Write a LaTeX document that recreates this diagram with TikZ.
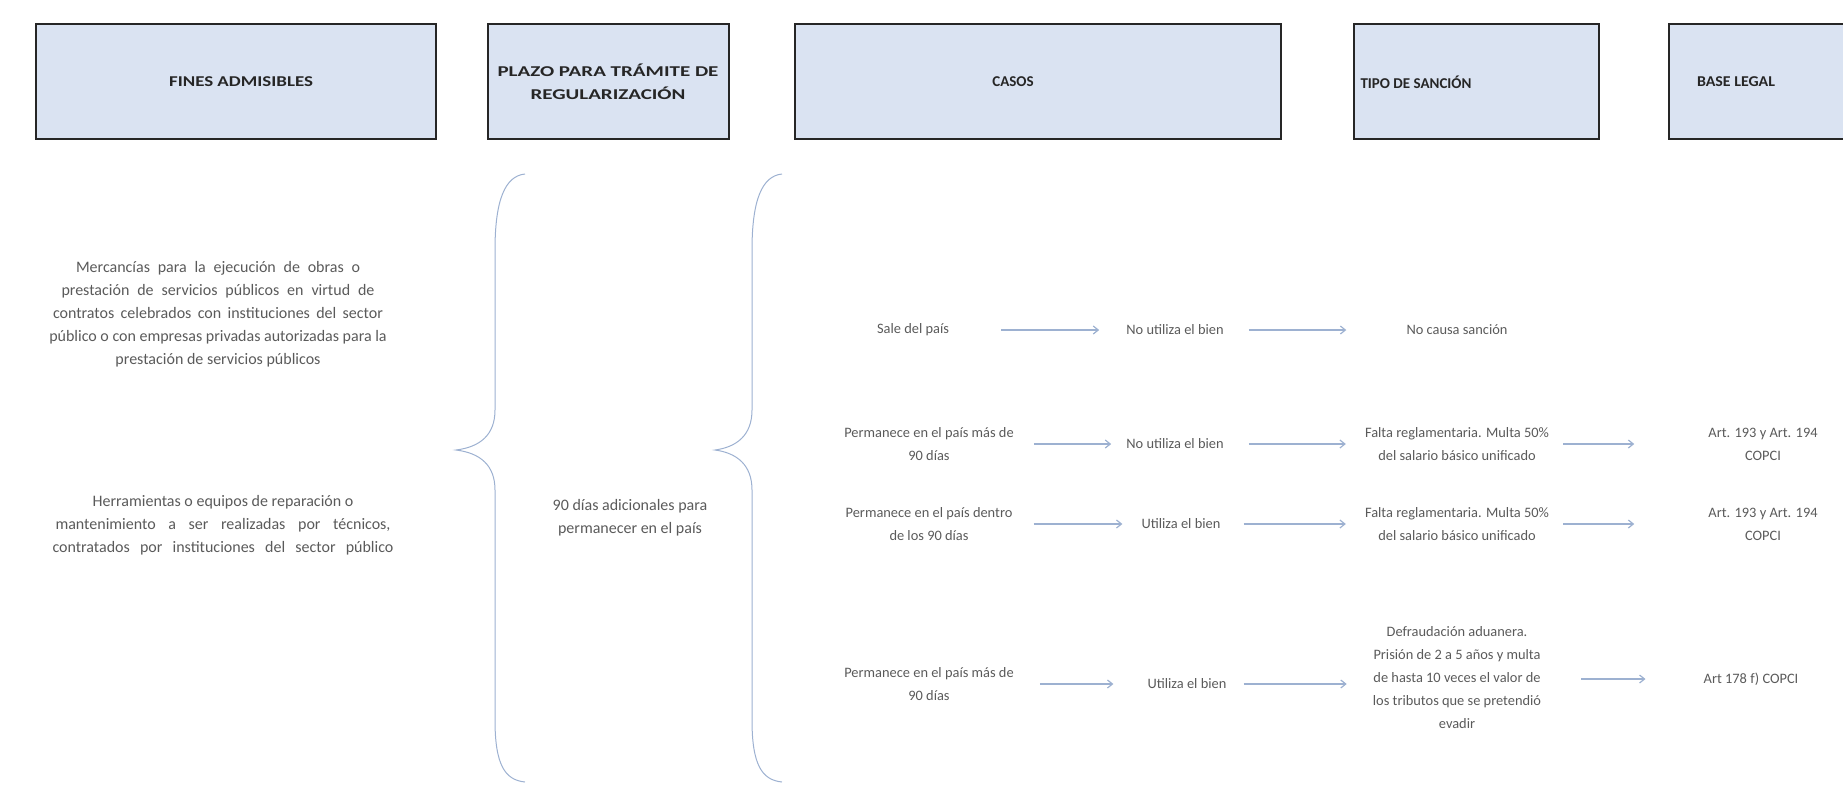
\documentclass[tikz,border=0pt]{standalone}
\usepackage{fontspec}
\usepackage{graphicx}
\setmainfont{Carlito}
\usetikzlibrary{arrows.meta}
\definecolor{headfill}{HTML}{DAE3F2}
\definecolor{linkblue}{HTML}{9DB1D1}
\definecolor{textgray}{HTML}{5A5A5A}
\tikzset{
%Define standard arrow tip
>={Straight Barb[length=5pt,width=8pt]},
%header boxes and their titles
headbox/.style={draw=black!85, line width=2.2pt, fill=headfill, minimum height=115pt},
headtxt/.style={align=center, text=black!85, font=\bfseries\fontsize{15}{23.5}\selectfont, inner sep=0pt},
%plain text
txt/.style={align=center, text=textgray, font=\fontsize{14.4}{23}\selectfont, inner sep=0pt},
bigtxt/.style={txt, font=\fontsize{16}{23}\selectfont},
%connections
link/.style={->, linkblue, line width=1.2pt},
brace/.style={linkblue, line width=1pt},
}

\begin{document}
\begin{tikzpicture}[x=1pt,y=-1pt]

\useasboundingbox (0,0) rectangle (1843,795);
\clip (0,0) rectangle (1843,795);

% header
\node[headbox, minimum width=400pt] (box1) at (236,81.5) {};
\node[headbox, minimum width=241pt] (box2) at (608.5,81.5) {};
\node[headbox, minimum width=486pt] (box3) at (1038,81.5) {};
\node[headbox, minimum width=245pt] (box4) at (1476.5,81.5) {};
\node[headbox, minimum width=220pt] (box5) at (1779,81.5) {};
\node[headtxt] (hfin) at (241,82) {\scalebox{1.26}[1]{FINES ADMISIBLES}};
\node[headtxt] (hplazo) at (608,82) {\scalebox{1.4}[1]{PLAZO PARA TRÁMITE DE}\\ \scalebox{1.4}[1]{REGULARIZACIÓN}};
\node[headtxt] (hcasos) at (1013,82) {CASOS};
\node[headtxt] (htipo) at (1416,82) {TIPO DE SANCIÓN};
\node[headtxt] (hbase) at (1736,82) {\scalebox{1.06}[1]{BASE LEGAL}};

% fines
\node[bigtxt] (fin1) at (218,314) {\makebox[284pt][s]{Mercancías para la ejecución de obras o}\\ \makebox[313pt][s]{prestación de servicios públicos en virtud de}\\ \makebox[330pt][s]{contratos celebrados con instituciones del sector}\\ público o con empresas privadas autorizadas para la\\ prestación de servicios públicos};
\node[bigtxt] (fin2) at (223,525) {Herramientas o equipos de reparación o\\ \makebox[335pt][s]{mantenimiento a ser realizadas por técnicos,}\\ \makebox[341pt][s]{contratados por instituciones del sector público}};

% braces
\draw[brace] (525,174) .. controls (505,176) and (495,200) .. (495,250) -- (495,410)
  .. controls (495,435) and (480,447) .. (456,450)
  .. controls (480,453) and (495,465) .. (495,490) -- (495,720)
  .. controls (495,765) and (505,780) .. (525,782);
\node[bigtxt] (plazo) at (630,518) {90 días adicionales para\\ permanecer en el país};
\draw[brace] (782,174) .. controls (762,176) and (752,200) .. (752,250) -- (752,410)
  .. controls (752,435) and (737,447) .. (715,450)
  .. controls (737,453) and (752,465) .. (752,490) -- (752,720)
  .. controls (752,765) and (762,780) .. (782,782);

% casos
\node[txt] (r1a) at (913,330) {Sale del país};
\node[txt] (r1b) at (1175,330) {No utiliza el bien};
\node[txt] (r1c) at (1457,330) {No causa sanción};

\node[txt] (r2a) at (929,444) {Permanece en el país más de\\ 90 días};
\node[txt] (r2b) at (1175,444) {No utiliza el bien};
\node[txt] (r2c) at (1457,444) {Falta reglamentaria. Multa 50\%\\ del salario básico unificado};
\node[txt] (r2d) at (1763,444) {Art. 193 y Art. 194\\ COPCI};

\node[txt] (r3a) at (929,524) {Permanece en el país dentro\\ de los 90 días};
\node[txt] (r3b) at (1181,524) {Utiliza el bien};
\node[txt] (r3c) at (1457,524) {Falta reglamentaria. Multa 50\%\\ del salario básico unificado};
\node[txt] (r3d) at (1763,524) {Art. 193 y Art. 194\\ COPCI};

\node[txt] (r4a) at (929,684) {Permanece en el país más de\\ 90 días};
\node[txt] (r4b) at (1187,684) {Utiliza el bien};
\node[txt] (r4c) at (1457,678) {Defraudación aduanera.\\ Prisión de 2 a 5 años y multa\\ de hasta 10 veces el valor de\\ los tributos que se pretendió\\ evadir};
\node[txt] (r4d) at (1751,679) {Art 178 f) COPCI};

% arrows
\draw[link, shorten <=52pt, shorten >=27pt] (r1a) -- (r1b);
\draw[link, shorten <=25pt, shorten >=60pt] (r1b) -- (r1c);

\draw[link, shorten <=20pt, shorten >=15pt] (r2a) -- (r2b);
\draw[link, shorten <=25pt, shorten >=19pt] (r2b) -- (r2c);
\draw[link, shorten <=14pt, shorten >=74pt] (r2c) -- (r2d);

\draw[link, shorten <=21pt, shorten >=19pt] (r3a) -- (r3b);
\draw[link, shorten <=23pt, shorten >=19pt] (r3b) -- (r3c);
\draw[link, shorten <=14pt, shorten >=74pt] (r3c) -- (r3d);

\draw[link, shorten <=26pt, shorten >=34pt] (r4a) -- (r4b);
\draw[link, shorten <=17pt, shorten >=26pt] (r4b.east) -- (r4b.east -| r4c.west);
\draw[link, shorten <=40pt, shorten >=58pt] (r4c.east |- r4d.west) -- (r4d.west);

\end{tikzpicture}
\end{document}
